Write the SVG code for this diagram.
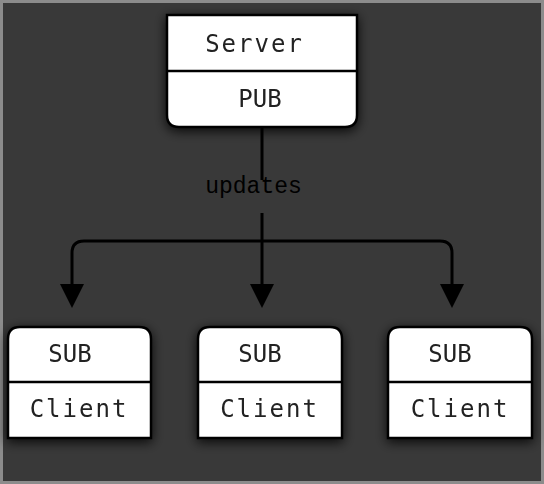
<svg xmlns="http://www.w3.org/2000/svg" width="544" height="484" viewBox="0 0 544 484">
<defs>
<filter id="sh" x="-25%" y="-25%" width="150%" height="150%">
<feGaussianBlur in="SourceAlpha" stdDeviation="6"/>
<feOffset dx="0" dy="3" result="b"/>
<feComponentTransfer><feFuncA type="linear" slope="0.85"/></feComponentTransfer>
<feMerge><feMergeNode/><feMergeNode in="SourceGraphic"/></feMerge>
</filter>
</defs>
<style>
.box{fill:#fff;stroke:#000;stroke-width:2.5}
.div{stroke:#000;stroke-width:2.5}
.t{font-family:"DejaVu Sans Mono","Liberation Mono",monospace;font-size:24px;fill:#222;text-anchor:middle}
.lbl{font-family:"Liberation Mono","Courier New",monospace;font-size:23px;fill:#000;text-anchor:middle}
.c{fill:none;stroke:#000;stroke-width:3}
.ah{fill:#000}
</style>
<rect x="1.5" y="1.5" width="541" height="481" fill="#393939" stroke="#8c8c8c" stroke-width="3"/>
<g id="connectors">
<path class="c" d="M262,127 V180"/>
<path class="c" d="M262,213 V286"/>
<path class="c" d="M72,286 V253 Q72,241 84,241 H440 Q452,241 452,253 V286"/>
<path class="ah" d="M60,284 L84,284 L72,308 Z"/>
<path class="ah" d="M250,284 L274,284 L262,308 Z"/>
<path class="ah" d="M440,284 L464,284 L452,308 Z"/>
<text class="lbl" x="253.5" y="193">updates</text>
</g>
<g id="server" filter="url(#sh)">
<path class="box" d="M167,15 H357 V115 Q357,127 345,127 H179 Q167,127 167,115 Z"/>
<line class="div" x1="167" y1="71" x2="357" y2="71"/>
<text class="t" x="254.5" y="52" letter-spacing="2">Server</text>
<text class="t" x="260" y="107">PUB</text>
</g>
<g id="client1" filter="url(#sh)">
<path class="box" d="M8,339 Q8,327 20,327 H139 Q151,327 151,339 V438 H8 Z"/>
<line class="div" x1="8" y1="382" x2="151" y2="382"/>
<text class="t" x="70" y="362">SUB</text>
<text class="t" x="79" y="417" letter-spacing="2">Client</text>
</g>
<g id="client2" filter="url(#sh)">
<path class="box" d="M198,339 Q198,327 210,327 H330 Q342,327 342,339 V438 H198 Z"/>
<line class="div" x1="198" y1="382" x2="342" y2="382"/>
<text class="t" x="260" y="362">SUB</text>
<text class="t" x="269.5" y="417" letter-spacing="2">Client</text>
</g>
<g id="client3" filter="url(#sh)">
<path class="box" d="M388,339 Q388,327 400,327 H520 Q532,327 532,339 V438 H388 Z"/>
<line class="div" x1="388" y1="382" x2="532" y2="382"/>
<text class="t" x="450" y="362">SUB</text>
<text class="t" x="460" y="417" letter-spacing="2">Client</text>
</g>
</svg>
